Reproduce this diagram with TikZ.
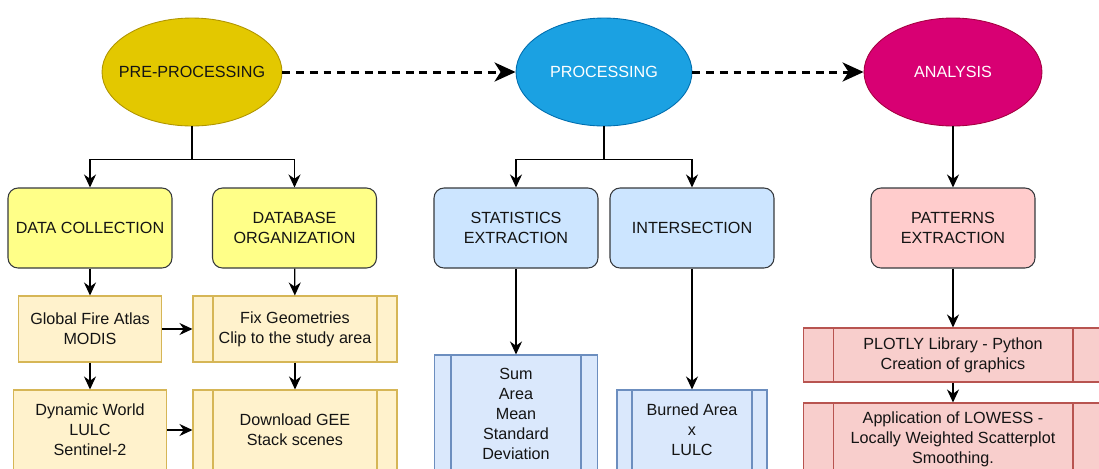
\documentclass[tikz,border=0pt]{standalone}
\usepackage{fontspec}
\setmainfont{Liberation Sans}
\usetikzlibrary{arrows.meta,shapes.geometric}
\definecolor{preyellow}{HTML}{E3C800}
\definecolor{preyellowd}{HTML}{B09500}
\definecolor{procblue}{HTML}{1BA1E2}
\definecolor{procblued}{HTML}{006EAF}
\definecolor{anamagenta}{HTML}{D80073}
\definecolor{anamagentad}{HTML}{A50040}
\definecolor{stepgrey}{HTML}{36393D}
\definecolor{stepyellow}{HTML}{FFFF88}
\definecolor{stepblue}{HTML}{CCE5FF}
\definecolor{steppink}{HTML}{FFCCCC}
\definecolor{taskorange}{HTML}{FFF2CC}
\definecolor{taskoranged}{HTML}{D6B656}
\definecolor{taskblue}{HTML}{DAE8FC}
\definecolor{taskblued}{HTML}{6C8EBF}
\definecolor{taskred}{HTML}{F8CECC}
\definecolor{taskredd}{HTML}{B85450}
\tikzset{
  phase/.style={ellipse, minimum width=3.6cm, minimum height=2.16cm, inner sep=0pt, line width=0.5pt},
  stepbox/.style={rectangle, rounded corners=0.2cm, draw=stepgrey, line width=0.6pt, minimum width=3.28cm, minimum height=1.6cm, align=center},
  taskbox/.style={rectangle, line width=0.6pt, align=center, inner sep=1pt},
  bars/.style n args={2}{path picture={
      \draw[#2, line width=0.6pt] ([xshift=#1]path picture bounding box.north west) -- ([xshift=#1]path picture bounding box.south west)
        ([xshift=-#1]path picture bounding box.north east) -- ([xshift=-#1]path picture bounding box.south east);}},
  arr/.style={-{Stealth[length=2.6mm, width=2.4mm]}, line width=0.8pt},
  flow/.style={-{Stealth[length=4.2mm, width=3.8mm, inset=1.2mm]}, line width=1.7pt, dash pattern=on 4.5pt off 3.3pt}
}

\begin{document}
\begin{tikzpicture}[x=0.02cm, y=-0.02cm, every node/.style={font=\fontsize{9.2}{11.4}\selectfont, text=black!92}]
	%%%%% START %%%%%
	\useasboundingbox (0,0) rectangle (1099,468);
	\clip (0,0) rectangle (1099,468);
	
	% phases
	\node[phase, fill=preyellow, draw=preyellowd, inner xsep=-0.2cm] (pre) at (192,72) {PRE-PROCESSING};
	\node[phase, fill=procblue, draw=procblued, text=white, minimum width=3.52cm] (proc) at (604,72) {PROCESSING};
	\node[phase, fill=anamagenta, draw=anamagentad, text=white, minimum width=3.56cm] (ana) at (953,72) {ANALYSIS};
	
	\draw[flow] (pre) -- (proc);
	\draw[flow] (proc) -- (ana);
	
	% steps
	\node[stepbox, fill=stepyellow] (dc) at (90,228) {DATA COLLECTION};
	\node[stepbox, fill=stepyellow] (dbo) at (294.5,228) {DATABASE\\ORGANIZATION};
	\node[stepbox, fill=stepblue] (stx) at (516,228) {STATISTICS\\EXTRACTION};
	\node[stepbox, fill=stepblue] (inter) at (692,228) {INTERSECTION};
	\node[stepbox, fill=steppink] (pat) at (953,228) {PATTERNS\\EXTRACTION};
	
	\draw[arr] (pre.south) -- ++(0,33) -| (dc.north);
	\draw[arr] (pre.south) -- ++(0,33) -| (dbo.north);
	\draw[arr] (proc.south) -- ++(0,33) -| (stx.north);
	\draw[arr] (proc.south) -- ++(0,33) -| (inter.north);
	\draw[arr] (ana) -- (pat);
	
	% tasks
	\node[taskbox, fill=taskorange, draw=taskoranged, minimum width=2.86cm, minimum height=1.32cm] (gfa) at (90,329) {Global Fire Atlas\\MODIS};
	\node[taskbox, fill=taskorange, draw=taskoranged, minimum width=4.08cm, minimum height=1.32cm, bars={0.4cm}{taskoranged}] (fix) at (295,329) {Fix Geometries\\Clip to the study area};
	\node[taskbox, fill=taskorange, draw=taskoranged, minimum width=3.06cm, minimum height=1.6cm] (dw) at (90,430) {Dynamic World\\LULC\\Sentinel-2};
	\node[taskbox, fill=taskorange, draw=taskoranged, minimum width=4.08cm, minimum height=1.6cm, bars={0.4cm}{taskoranged}] (gee) at (295,430) {Download GEE\\Stack scenes};
	
	\node[taskbox, fill=taskblue, draw=taskblued, minimum width=3.26cm, minimum height=2.36cm, bars={0.33cm}{taskblued}] (sum) at (516,414) {Sum\\Area\\Mean\\Standard\\Deviation};
	\node[taskbox, fill=taskblue, draw=taskblued, minimum width=3.0cm, minimum height=1.6cm, bars={0.3cm}{taskblued}] (burn) at (692,430) {Burned Area\\x\\LULC};
	
	\node[taskbox, fill=taskred, draw=taskredd, minimum width=6.0cm, minimum height=1.08cm, bars={0.6cm}{taskredd}] (plot) at (953,355) {PLOTLY Library - Python\\Creation of graphics};
	\node[taskbox, fill=taskred, draw=taskredd, minimum width=6.0cm, minimum height=1.44cm, bars={0.6cm}{taskredd}] (lowess) at (953,439) {Application of LOWESS -\\Locally Weighted Scatterplot\\Smoothing.};
	
	\draw[arr] (dc) -- (gfa);
	\draw[arr] (dbo) -- (fix);
	\draw[arr] (gfa) -- (fix);
	\draw[arr] (gfa) -- (dw);
	\draw[arr] (fix) -- (gee);
	\draw[arr] (dw) -- (gee);
	\draw[arr] (stx) -- (sum);
	\draw[arr] (inter) -- (burn);
	\draw[arr] (pat) -- (plot);
	\draw[arr] (plot) -- (lowess);
	
	%%%%% END %%%%%
\end{tikzpicture}
\end{document}
